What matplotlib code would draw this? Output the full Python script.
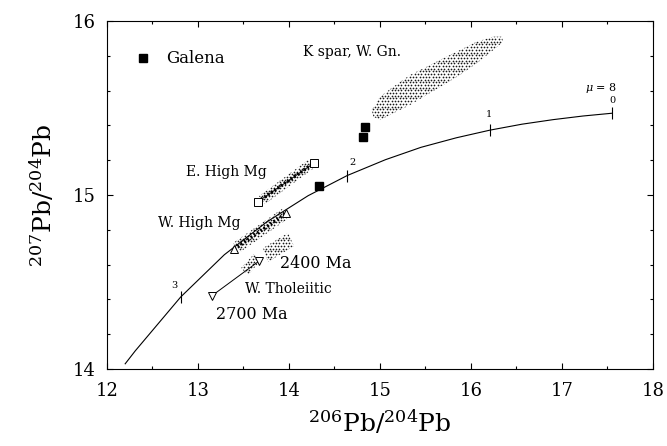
import numpy as np
import matplotlib.pyplot as plt
from matplotlib.patches import Polygon
from matplotlib.ticker import MultipleLocator

plt.rcParams['font.family'] = 'DejaVu Serif'
plt.rcParams['mathtext.fontset'] = 'dejavuserif'

# single-stage growth curve, mu = 8
curve_x = [17.55, 17.23, 16.90, 16.56, 16.21, 15.84, 15.45, 15.06, 14.64,
           14.21, 13.76, 13.29, 12.81, 12.31, 12.20]
curve_y = [15.470, 15.454, 15.433, 15.407, 15.373, 15.329, 15.274, 15.203,
           15.112, 14.996, 14.847, 14.657, 14.414, 14.104, 14.030]

# age marks along the curve (Ga)
age_x = [17.55, 16.21, 14.64, 12.81]
age_y = [15.470, 15.373, 15.112, 14.414]
age_labels = ['0', '1', '2', '3']
age_offsets = [(0, 9), (-1, 11), (3.6, 9.6), (-4.8, 8.4)]

# galena
galena_x = [14.81, 14.84, 14.33]
galena_y = [15.332, 15.391, 15.053]

# whole rock end points
ehm_x = [13.66, 14.27]
ehm_y = [14.962, 15.182]
whm_x = [13.40, 13.97]
whm_y = [14.690, 14.895]
wth_x = [13.15, 13.67]
wth_y = [14.420, 14.620]

# stippled fields
kspar_x = [14.909, 15.0, 15.146, 15.330, 15.513, 15.696, 15.879, 16.063, 16.245, 16.337,
           16.355, 16.245, 16.063, 15.879, 15.696, 15.513, 15.330, 15.146, 15.0, 14.927]
kspar_y = [15.489, 15.565, 15.622, 15.690, 15.737, 15.786, 15.833, 15.881, 15.910, 15.910,
           15.881, 15.833, 15.757, 15.690, 15.632, 15.575, 15.517, 15.470, 15.431, 15.450]
ehm_field_x = [13.670, 14.209, 14.275, 13.736]
ehm_field_y = [14.994, 15.201, 15.155, 14.948]
whm_field_x = [13.385, 13.923, 14.000, 13.462]
whm_field_y = [14.724, 14.920, 14.868, 14.672]
ma2400_field_x = [13.714, 13.989, 14.055, 13.769]
ma2400_field_y = [14.695, 14.782, 14.707, 14.615]
wth_field_x = [13.473, 13.615, 13.692, 13.549]
wth_field_y = [14.580, 14.661, 14.626, 14.540]


def stipple(ax, xs, ys, step_px=3.3, row_px=2.7):
    # fill a field with a staggered dot screen clipped to its outline
    patch = Polygon(list(zip(xs, ys)), closed=True, fill=False, lw=0)
    ax.add_patch(patch)
    x_per_px = 6 / (0.8186 * 667)
    y_per_px = 2 / (0.7803 * 446)
    dx, dy = step_px * x_per_px, row_px * y_per_px
    rows = np.arange(min(ys) - dy, max(ys) + dy, dy)
    px, py = [], []
    for i, ry in enumerate(rows):
        cols = np.arange(min(xs) - dx, max(xs) + dx, dx) + (dx / 2 if i % 2 else 0)
        px.extend(cols)
        py.extend([ry] * len(cols))
    dots = ax.scatter(px, py, s=1.5, marker='o', color='#1a1a1a', linewidths=0)
    dots.set_clip_path(patch)


fig = plt.figure(figsize=(6.67, 4.46), dpi=100)
ax = fig.add_axes([0.1604, 0.1726, 0.8186, 0.7803])

for fx, fy in [(kspar_x, kspar_y), (ehm_field_x, ehm_field_y), (whm_field_x, whm_field_y),
               (ma2400_field_x, ma2400_field_y), (wth_field_x, wth_field_y)]:
    stipple(ax, fx, fy)

ax.plot(curve_x, curve_y, color='black', lw=0.8)
ax.plot(age_x, age_y, ls='none', marker='|', ms=9, mew=0.8, color='black')
for x, y, lab, off in zip(age_x, age_y, age_labels, age_offsets):
    ax.annotate(lab, (x, y), xytext=off, textcoords='offset points',
                ha='center', va='center', fontsize=7)
ax.annotate(r'$\mu$ = 8', (age_x[0], age_y[0]), xytext=(-8.2, 18.5),
            textcoords='offset points', ha='center', va='center', fontsize=8)

# connecting lines
ax.plot(ehm_x, ehm_y, color='black', lw=0.7)
ax.plot(ehm_x, ehm_y, color='black', lw=2.6, ls=(0, (0.5, 0.6)))
ax.plot(whm_x, whm_y, color='black', lw=2.6, ls=(0, (0.5, 0.6)))
ax.plot(wth_x, wth_y, color='black', lw=0.7)

ax.plot(ehm_x, ehm_y, ls='none', marker='s', ms=5.5, mfc='white', mec='black', mew=0.7)
ax.plot(whm_x, whm_y, ls='none', marker='^', ms=6, mfc='white', mec='black', mew=0.7)
ax.plot(wth_x, wth_y, ls='none', marker='v', ms=6, mfc='white', mec='black', mew=0.7)
ax.plot(galena_x, galena_y, ls='none', marker='s', ms=6, color='black')

# key
ax.plot([0.0665], [0.893], marker='s', ms=6, color='black', transform=ax.transAxes)
ax.text(0.109, 0.893, 'Galena', transform=ax.transAxes, fontsize=12, va='center')

ax.text(14.157, 15.824, 'K spar, W. Gn.', fontsize=10, va='center')
ax.text(12.868, 15.130, 'E. High Mg', fontsize=10, va='center')
ax.text(12.564, 14.837, 'W. High Mg', fontsize=10, va='center')
ax.text(13.901, 14.607, '2400 Ma', fontsize=11.5, va='center')
ax.text(13.516, 14.458, 'W. Tholeiitic', fontsize=10, va='center')
ax.text(13.198, 14.316, '2700 Ma', fontsize=11.5, va='center')

ax.set_xlim(12, 18)
ax.set_ylim(14, 16)
ax.xaxis.set_major_locator(MultipleLocator(1))
ax.xaxis.set_minor_locator(MultipleLocator(0.5))
ax.yaxis.set_major_locator(MultipleLocator(1))
ax.yaxis.set_minor_locator(MultipleLocator(0.2))
ax.tick_params(which='both', direction='in', top=True, right=True, width=0.8)
ax.tick_params(which='major', length=4.5, labelsize=13)
ax.tick_params(axis='x', which='major', pad=9)
ax.tick_params(axis='y', which='major', pad=8)
ax.tick_params(which='minor', length=2.2)
for sp in ax.spines.values():
    sp.set_linewidth(0.8)

ax.set_xlabel(r'$^{206}\mathrm{Pb}/^{204}\mathrm{Pb}$', fontsize=18, labelpad=6)
ax.set_ylabel(r'$^{207}\mathrm{Pb}/^{204}\mathrm{Pb}$', fontsize=18, labelpad=12)

fig.savefig('out.png', dpi=100)
